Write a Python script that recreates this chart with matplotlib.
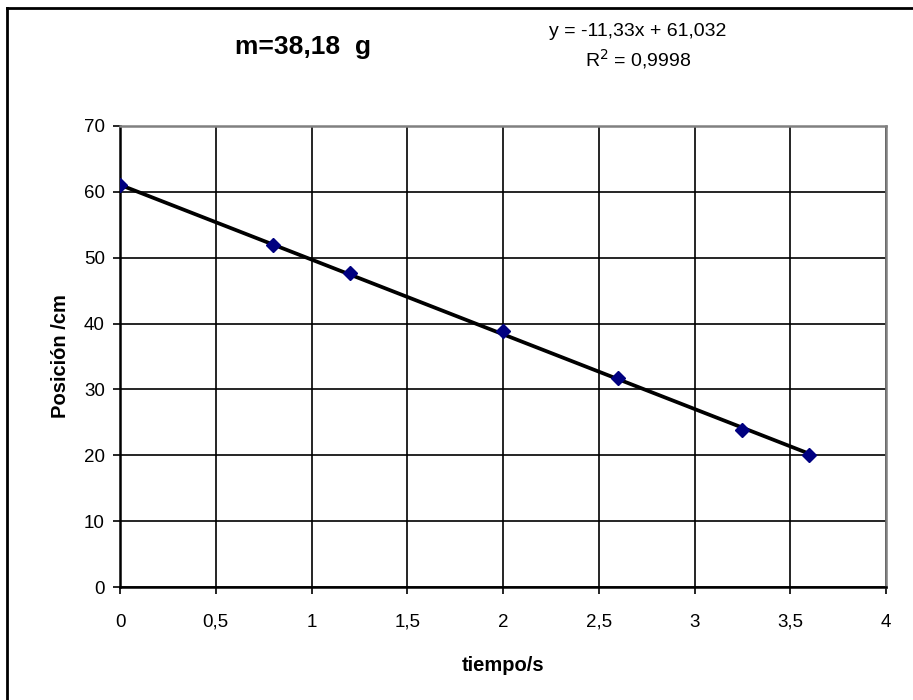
import matplotlib
matplotlib.use("Agg")
import matplotlib.pyplot as plt
import numpy as np
from matplotlib.lines import Line2D
from matplotlib.ticker import MultipleLocator, FuncFormatter

plt.rcParams['font.family'] = ['Liberation Sans', 'DejaVu Sans']

# data
tiempo = [0.0, 0.8, 1.2, 2.0, 2.6, 3.25, 3.6]
posicion = [61.0, 51.9, 47.6, 38.8, 31.8, 23.9, 20.0]

slope = -11.33
intercept = 61.032
r2_text = "0,9998"
title_text = "m=38,18  g"


def coma(v):
    return ('%g' % v).replace('.', ',')


fig = plt.figure(figsize=(9.13, 7.0), dpi=100)
ax = fig.add_axes([120 / 913, 1 - 587.3 / 700, 766 / 913, 461.6 / 700])

# trendline over the data range
xl = np.array([min(tiempo), max(tiempo)])
ax.plot(xl, slope * xl + intercept, color='black', lw=2.7, zorder=3)
ax.plot(tiempo, posicion, linestyle='none', marker='D', markersize=7,
        color='#000080', zorder=4)

ax.set_xlim(0, 4)
ax.set_ylim(0, 70)
ax.xaxis.set_major_locator(MultipleLocator(0.5))
ax.yaxis.set_major_locator(MultipleLocator(10))
ax.xaxis.set_major_formatter(FuncFormatter(lambda v, p: coma(v)))
ax.yaxis.set_major_formatter(FuncFormatter(lambda v, p: coma(v)))
ax.grid(True, color='black', lw=1.2)
ax.set_axisbelow(True)
ax.tick_params(direction='out', length=5, width=1.2, labelsize=13.5,
               color='black', pad=6)
ax.tick_params(axis='x', pad=14)

for s in ['top', 'right']:
    ax.spines[s].set_color('#808080')
    ax.spines[s].set_linewidth(1.8)
for s in ['left', 'bottom']:
    ax.spines[s].set_color('black')
    ax.spines[s].set_linewidth(1.8)

ax.set_xlabel('tiempo/s', fontsize=14.5, fontweight='bold', labelpad=18)
ax.set_ylabel('Posición /cm', fontsize=14.5, fontweight='bold', labelpad=10)

fig.text(303 / 913, 1 - 47 / 700, title_text, ha='center', va='center',
         fontsize=19, fontweight='bold')
fig.text(638 / 913, 1 - 31 / 700,
         'y = %sx + %s' % (coma(slope), coma(intercept)),
         ha='center', va='center', fontsize=14)
fig.text(638 / 913, 1 - 59 / 700, r'R$^2$ = ' + r2_text, ha='center', va='center',
         fontsize=14)

# outer chart frame
fig.add_artist(Line2D([7 / 913, 7 / 913], [-0.1, 1 - 8 / 700], color='black', lw=2,
                      transform=fig.transFigure))
fig.add_artist(Line2D([7 / 913, 1.1], [1 - 8 / 700, 1 - 8 / 700], color='black', lw=2,
                      transform=fig.transFigure))

fig.savefig('out.png', dpi=100)
